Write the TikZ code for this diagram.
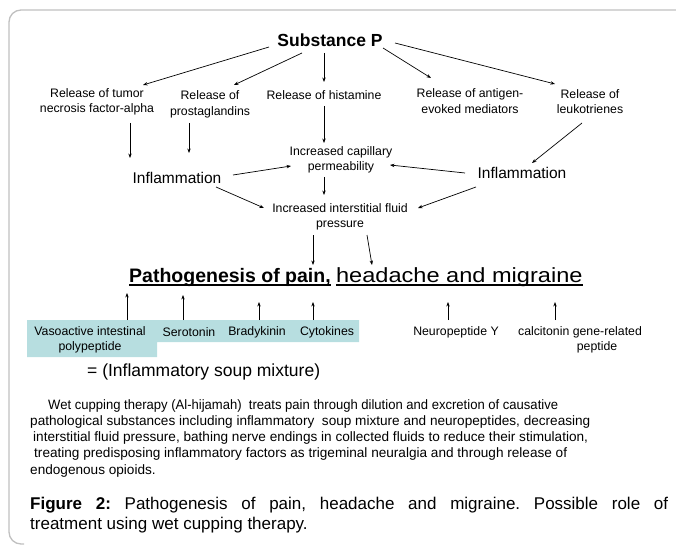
\documentclass[tikz,border=0pt]{standalone}
\usepackage{fontspec}
\setmainfont{Liberation Sans}
\usetikzlibrary{arrows.meta}
\definecolor{framegray}{RGB}{192,192,192}
\definecolor{soupblue}{RGB}{183,222,224}
\begin{document}
\begin{tikzpicture}[x=1pt,y=-1pt,
  lbl/.style={font=\fontsize{12.3}{15.5}\selectfont, align=center, inner sep=0pt},
  big/.style={font=\fontsize{15.5}{18}\selectfont, inner sep=0pt},
  arr/.style={-{Stealth[length=4.5pt,width=3.4pt]}, line width=0.7pt},
  paraline/.style={font=\fontsize{13.6}{15}\selectfont, anchor=base west, inner sep=0pt},
  uline/.style={line width=1.4pt}
]
\useasboundingbox (0,0) rectangle (676,545);
% frame
\draw[framegray, line width=1.3pt] (677,10) -- (21,10) arc[start angle=270, end angle=180, radius=12] -- (9,532) arc[start angle=180, end angle=90, radius=12] -- (24,544);
% soup box
\fill[soupblue] (27,320) -- (359,320) -- (359,342) -- (157,342) -- (157,357) -- (27,357) -- cycle;

% nodes
\node[inner sep=0pt, font=\fontsize{17.5}{20}\selectfont\bfseries] (sp) at (330,40) {Substance P};
\node[lbl] (tnf) at (97,102) {Release of tumor\\necrosis factor-alpha};
\node[lbl] (pro) at (210,104.5) {Release of\\prostaglandins};
\node[lbl] (his) at (324,95) {Release of histamine};
\node[lbl] (ant) at (470,101) {Release of antigen-\\evoked mediators};
\node[lbl] (leu) at (590,101.5) {Release of\\leukotrienes};
\node[lbl] (cap) at (341,160) {Increased capillary\\permeability};
\node[big] (inf1) at (177,178) {Inflammation};
\node[big] (inf2) at (522,173) {Inflammation};
\node[lbl] (ifp) at (340,217) {Increased interstitial fluid\\pressure};
\node[inner sep=0pt, anchor=base west, font=\fontsize{19.5}{24}\selectfont\bfseries] (pa) at (129,282) {Pathogenesis of pain,};
\node[inner sep=0pt, anchor=base west, font=\fontsize{20.5}{24}\selectfont] (pb) at ([xshift=5pt]pa.base east) {\scalebox{1.15}[1]{headache and migraine}};
\draw[uline] ([yshift=-3pt]pa.base west) -- ([yshift=-3pt]pa.base east);
\draw[uline] ([yshift=-3pt]pb.base west) -- ([yshift=-3pt]pb.base east);

\node[lbl] (vip) at (90,340) {Vasoactive intestinal\\polypeptide};
\node[lbl] (ser) at (189,332) {Serotonin};
\node[lbl] (bra) at (257,332) {Bradykinin};
\node[lbl] (cyt) at (327,332) {Cytokines};
\node[lbl] (npy) at (456,332) {Neuropeptide Y};
\node[lbl] (cg) at (580,340) {calcitonin gene-related\\\hspace*{34pt}peptide};
\node[inner sep=0pt, anchor=west, font=\fontsize{17.5}{20}\selectfont] (soup) at (87,372) {= (Inflammatory soup mixture)};

\node[paraline] (p1) at (48,409) {\scalebox{0.96}[1]{Wet cupping therapy (Al-hijamah) \ treats pain through dilution and excretion of causative}};
\node[paraline] (p2) at (30,425) {pathological substances including inflammatory \ soup mixture and neuropeptides, decreasing};
\node[paraline] (p3) at (33,441) {interstitial fluid pressure, bathing nerve endings in collected fluids to reduce their stimulation,};
\node[paraline] (p4) at (34,457) {treating predisposing inflammatory factors as trigeminal neuralgia and through release of};
\node[paraline] (p5) at (30,474) {endogenous opioids.};

\node[inner sep=0pt, anchor=north west, text width=638pt, align=justify, font=\fontsize{17}{20}\selectfont\frenchspacing] (cap2) at (30,497) {\textbf{Figure 2:} Pathogenesis of pain, headache and migraine. Possible role of\linebreak treatment using wet cupping therapy.};

% arrows from Substance P
\draw[arr] ([shift={(-61,7)}]sp.center) -- ([shift={(46,-17)}]tnf.center);
\draw[arr] ([shift={(-28,13)}]sp.center) -- ([shift={(24,-19.5)}]pro.center);
\draw[arr] ([shift={(-6,13)}]sp.center) -- ([shift={(0,-13)}]his.center);
\draw[arr] ([shift={(53,8)}]sp.center) -- ([shift={(-39,-23)}]ant.center);
\draw[arr] ([shift={(65,3)}]sp.center) -- ([shift={(-35,-17.5)}]leu.center);
% row 1 down
\draw[arr] ([shift={(33,21)}]tnf.center) -- ([shift={(-47,-20)}]inf1.center);
\draw[arr] ([shift={(-21,18.5)}]pro.center) -- ([shift={(12,-25)}]inf1.center);
\draw[arr] ([shift={(0,11)}]his.center) -- ([shift={(-17,-17)}]cap.center);
\draw[arr] ([shift={(-8,21.5)}]leu.center) -- ([shift={(10,-10)}]inf2.center);
% middle
\draw[arr] ([shift={(56,-3)}]inf1.center) -- ([shift={(-50,6)}]cap.center);
\draw[arr] ([shift={(-57,0)}]inf2.center) -- ([shift={(49,5)}]cap.center);
\draw[arr] ([shift={(-17,17)}]cap.center) -- ([shift={(-16,-22)}]ifp.center);
\draw[arr] ([shift={(39,9)}]inf1.center) -- ([shift={(-76,-9)}]ifp.center);
\draw[arr] ([shift={(-46,14)}]inf2.center) -- ([shift={(78,-9)}]ifp.center);
\draw[arr] ([shift={(-27,18)}]ifp.center) -- ([shift={(184,-17)}]pa.base west);
\draw[arr] ([shift={(27,18)}]ifp.center) -- ([shift={(243,-17)}]pa.base west);
% bottom up
\draw[arr] ([shift={(37,-20)}]vip.center) -- ([shift={(-2,11)}]pa.base west);
\draw[arr] ([shift={(-6,-12)}]ser.center) -- ([shift={(54,13)}]pa.base west);
\draw[arr] ([shift={(2,-12)}]bra.center) -- ([shift={(130,20)}]pa.base west);
\draw[arr] ([shift={(-14,-12)}]cyt.center) -- ([shift={(184,20)}]pa.base west);
\draw[arr] ([shift={(-8,-12)}]npy.center) -- ([shift={(319,20)}]pa.base west);
\draw[arr] ([shift={(-25,-20)}]cg.center) -- ([shift={(426,20)}]pa.base west);
\end{tikzpicture}
\end{document}
